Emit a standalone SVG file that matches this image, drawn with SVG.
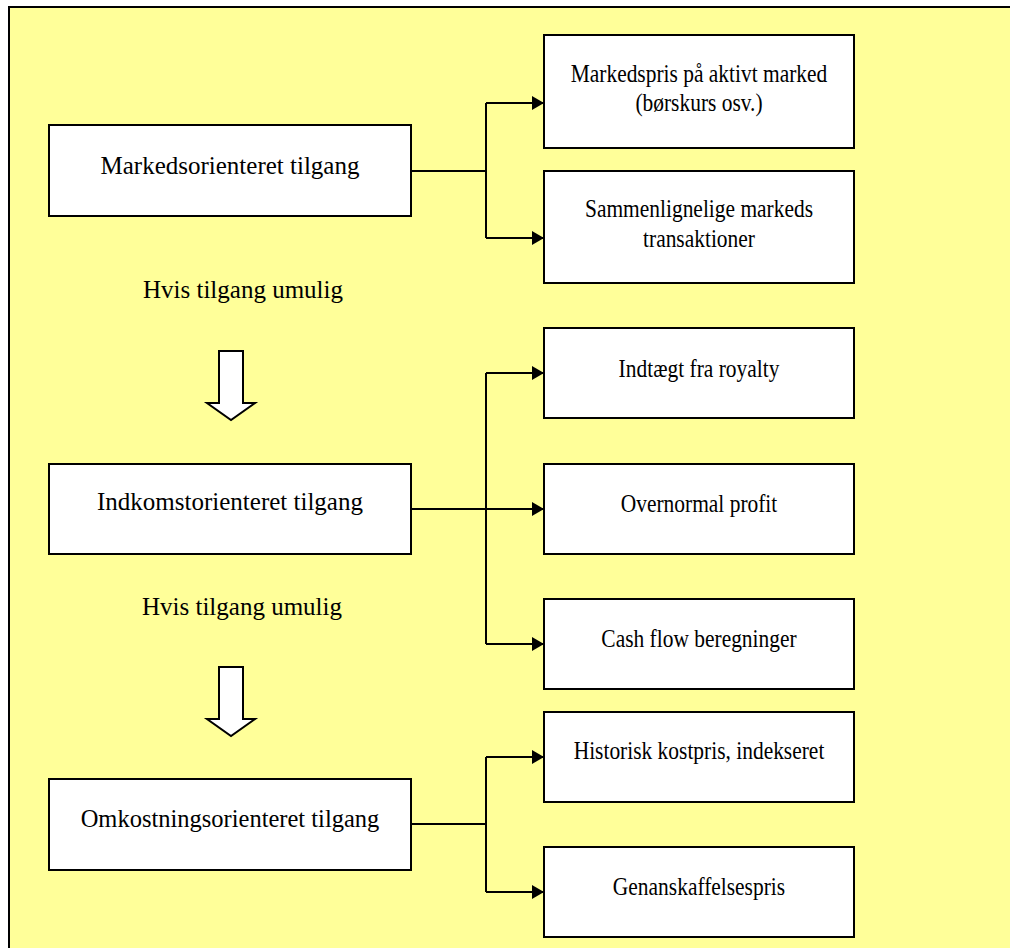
<svg xmlns="http://www.w3.org/2000/svg" width="1010" height="948" viewBox="0 0 1010 948">
  <style>
    .frame { fill: #FFFF99; stroke: #000; stroke-width: 2; }
    .box { fill: #FFFFFF; stroke: #000; stroke-width: 2; }
    .lbl { font-size: 25px; fill: #000; text-anchor: middle; }
    .note { font-size: 25px; fill: #000; }
    .wire { fill: none; stroke: #000; stroke-width: 2; }
    .blk { fill: #FFFFFF; stroke: #000; stroke-width: 2; stroke-linejoin: miter; }
  </style>
  <defs>
    <marker id="head" viewBox="0 0 12 14" refX="12" refY="7" markerWidth="12" markerHeight="14" markerUnits="userSpaceOnUse" orient="auto">
      <path d="M0,0 L12,7 L0,14 Z" fill="#000"/>
    </marker>
  </defs>

  <!-- background panel -->
  <rect class="frame" x="9" y="7" width="1010" height="950"/>

  <!-- connectors -->
  <g id="connectors">
    <path class="wire" d="M411,171 H486"/>
    <path class="wire" d="M486,103 V238"/>
    <path class="wire" d="M486,103 H544" marker-end="url(#head)"/>
    <path class="wire" d="M486,238 H544" marker-end="url(#head)"/>

    <path class="wire" d="M411,509 H544" marker-end="url(#head)"/>
    <path class="wire" d="M486,373 V644"/>
    <path class="wire" d="M486,373 H544" marker-end="url(#head)"/>
    <path class="wire" d="M486,644 H544" marker-end="url(#head)"/>

    <path class="wire" d="M411,824 H486"/>
    <path class="wire" d="M486,757 V892"/>
    <path class="wire" d="M486,757 H544" marker-end="url(#head)"/>
    <path class="wire" d="M486,892 H544" marker-end="url(#head)"/>
  </g>

  <g font-family="'Liberation Serif', 'Times New Roman', serif">
  <!-- step-down notes with block arrows -->
  <g id="fallback1">
    <text class="note" x="143" y="298">Hvis tilgang umulig</text>
    <path class="blk" d="M219,351 H243 V403 H255 L231,420 L207,403 H219 Z"/>
  </g>
  <g id="fallback2">
    <text class="note" x="142" y="615">Hvis tilgang umulig</text>
    <path class="blk" d="M219,667 H243 V719 H255 L231,736 L207,719 H219 Z"/>
  </g>

  <!-- approaches -->
  <g id="markedsorienteret">
    <rect class="box" x="49" y="125" width="362" height="91"/>
    <text class="lbl" x="230" y="174">Markedsorienteret tilgang</text>
  </g>
  <g id="indkomstorienteret">
    <rect class="box" x="49" y="464" width="362" height="90"/>
    <text class="lbl" x="230" y="510">Indkomstorienteret tilgang</text>
  </g>
  <g id="omkostningsorienteret">
    <rect class="box" x="49" y="779" width="362" height="91"/>
    <text class="lbl" x="230" y="827" transform="translate(230 0) scale(0.98 1) translate(-230 0)">Omkostningsorienteret tilgang</text>
  </g>

  <!-- methods: labels set slightly condensed -->
  <g id="markedspris">
    <rect class="box" x="544" y="35" width="310" height="113"/>
    <g transform="translate(699 0) scale(0.858 1)">
      <text class="lbl" x="0" y="82">Markedspris på aktivt marked</text>
      <text class="lbl" x="0" y="111">(børskurs osv.)</text>
    </g>
  </g>
  <g id="sammenlignelige">
    <rect class="box" x="544" y="171" width="310" height="112"/>
    <g transform="translate(699 0) scale(0.858 1)">
      <text class="lbl" x="0" y="217">Sammenlignelige markeds</text>
      <text class="lbl" x="0" y="247">transaktioner</text>
    </g>
  </g>
  <g id="royalty">
    <rect class="box" x="544" y="328" width="310" height="90"/>
    <text class="lbl" x="0" y="377" transform="translate(699 0) scale(0.858 1)">Indtægt fra royalty</text>
  </g>
  <g id="overnormal">
    <rect class="box" x="544" y="464" width="310" height="90"/>
    <text class="lbl" x="0" y="512" transform="translate(699 0) scale(0.858 1)">Overnormal profit</text>
  </g>
  <g id="cashflow">
    <rect class="box" x="544" y="599" width="310" height="90"/>
    <text class="lbl" x="0" y="647" transform="translate(699 0) scale(0.858 1)">Cash flow beregninger</text>
  </g>
  <g id="historisk">
    <rect class="box" x="544" y="712" width="310" height="90"/>
    <text class="lbl" x="0" y="759" transform="translate(699 0) scale(0.858 1)">Historisk kostpris, indekseret</text>
  </g>
  <g id="genanskaffelse">
    <rect class="box" x="544" y="847" width="310" height="90"/>
    <text class="lbl" x="0" y="895" transform="translate(699 0) scale(0.858 1)">Genanskaffelsespris</text>
  </g>
  </g>
</svg>
